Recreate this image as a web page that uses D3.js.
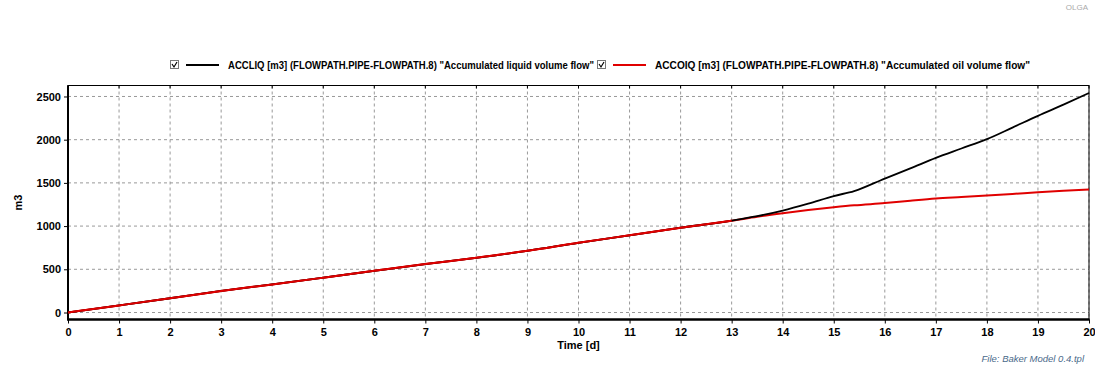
<meta charset="utf-8">
<script src="https://d3js.org/d3.v7.min.js"></script>
<style>
body { margin: 0; background: #fff; }
text { font-family: "Liberation Sans", Arial, sans-serif; }
</style>
<body>
<div id="chart"></div>
<script>

// days
var days = [0, 1, 2, 3, 4, 5, 6, 7, 8, 9, 10, 11, 12, 13, 13.5, 14, 14.5, 15, 15.4, 16, 16.5, 17, 17.5, 18, 18.5, 19, 19.5, 20]
// ACCLIQ [m3]
var liquid = [0, 82, 165, 250, 325, 403, 482, 560, 633, 714, 807, 893, 981, 1064, 1115, 1180, 1260, 1348, 1405, 1550, 1668, 1790, 1898, 2006, 2140, 2276, 2405, 2540]
// ACCOIQ [m3]
var oil = [0, 82, 165, 250, 325, 403, 482, 560, 633, 714, 807, 893, 981, 1062, 1108, 1148, 1185, 1217, 1240, 1266, 1293, 1318, 1336, 1354, 1372, 1391, 1408, 1424]

var xTicks = d3.range(0, 21)
var yTicks = [0, 500, 1000, 1500, 2000, 2500]

var seriesNames = ['ACCLIQ [m3] (FLOWPATH.PIPE-FLOWPATH.8) "Accumulated liquid volume flow"',
                   'ACCOIQ [m3] (FLOWPATH.PIPE-FLOWPATH.8) "Accumulated oil volume flow"']
var seriesColors = ["#000000", "#e00000"]

var width = 1095
var height = 372
var pLeft = 68, pRight = 1089, pTop = 85.5, pBottom = 319.5

var svg = d3.select("#chart")
  .append("svg")
    .attr("width", width)
    .attr("height", height)

var x = d3.scaleLinear().domain([0, 20]).range([pLeft, pRight])
var y = d3.scaleLinear().domain([-81, 2627]).range([pBottom, pTop])

// grid
svg.append("g")
  .selectAll("line")
  .data(xTicks)
  .enter().append("line")
    .attr("x1", d => x(d)).attr("x2", d => x(d))
    .attr("y1", pTop).attr("y2", pBottom)
    .attr("stroke", "#999").attr("stroke-dasharray", "3,3")
svg.append("g")
  .selectAll("line")
  .data(yTicks)
  .enter().append("line")
    .attr("x1", pLeft).attr("x2", pRight)
    .attr("y1", d => y(d)).attr("y2", d => y(d))
    .attr("stroke", "#999").attr("stroke-dasharray", "3,3")

// frame
svg.append("rect")
  .attr("x", pLeft).attr("y", pTop)
  .attr("width", pRight - pLeft).attr("height", pBottom - pTop)
  .attr("fill", "none").attr("stroke", "#000").attr("stroke-width", 1)

// axes
var xAxis = svg.append("g")
  .attr("transform", "translate(0," + pBottom + ")")
  .call(d3.axisBottom(x).tickValues(xTicks).tickSize(4).tickFormat(d3.format("d")))
var yAxis = svg.append("g")
  .attr("transform", "translate(" + pLeft + ",0)")
  .call(d3.axisLeft(y).tickValues(yTicks).tickSize(4).tickFormat(d3.format("d")))
xAxis.select(".domain").attr("stroke-width", 2.5).attr("d", "M" + (pLeft - 1) + ",0H" + (pRight + 0.5))
yAxis.select(".domain").attr("stroke-width", 2).attr("d", "M0," + pTop + "V" + pBottom)
svg.selectAll(".tick text")
  .attr("font-family", "Liberation Sans, Arial, sans-serif")
  .attr("font-size", 11).attr("font-weight", "bold").attr("fill", "#000")
xAxis.selectAll(".tick text").attr("dy", "0.9em")

// top ticks
svg.append("g")
  .selectAll("line")
  .data(xTicks)
  .enter().append("line")
    .attr("x1", d => x(d)).attr("x2", d => x(d))
    .attr("y1", pTop).attr("y2", pTop + 3)
    .attr("stroke", "#000")

// axis titles
svg.append("text")
  .attr("x", (pLeft + pRight) / 2).attr("y", 349)
  .attr("text-anchor", "middle")
  .attr("font-size", 11).attr("font-weight", "bold")
  .text("Time [d]")
svg.append("text")
  .attr("transform", "translate(22," + ((pTop + pBottom) / 2) + ") rotate(-90)")
  .attr("text-anchor", "middle")
  .attr("font-size", 11).attr("font-weight", "bold")
  .text("m3")

// lines
var line = d3.line().x((d, i) => x(days[i])).y(d => y(d)).curve(d3.curveMonotoneX)
svg.append("path").datum(oil)
  .attr("d", line).attr("fill", "none")
  .attr("stroke", seriesColors[1]).attr("stroke-width", 2)
svg.append("path").datum(liquid)
  .attr("d", line).attr("fill", "none")
  .attr("stroke", seriesColors[0]).attr("stroke-width", 1.8)
svg.append("path").datum(oil.slice(0, 14))
  .attr("d", line).attr("fill", "none")
  .attr("stroke", seriesColors[1]).attr("stroke-width", 2)

// legend
var legX = [170, 597]
var legW = [366, 375]
var leg = svg.append("g")
seriesNames.forEach(function(name, i) {
  var g = leg.append("g").attr("transform", "translate(" + legX[i] + ",66)")
  g.append("rect").attr("x", 0.5).attr("y", -5.5).attr("width", 8).attr("height", 8)
    .attr("fill", "#fff").attr("stroke", "#777")
  g.append("path").attr("d", "M2,-2 L4,1 L7,-4").attr("fill", "none").attr("stroke", "#000").attr("stroke-width", 1.2)
  g.append("line").attr("x1", 16).attr("x2", 49).attr("y1", -1).attr("y2", -1)
    .attr("stroke", seriesColors[i]).attr("stroke-width", 2)
  g.append("text").attr("x", 58).attr("y", 3)
    .attr("font-size", 10).attr("font-weight", "bold")
    .attr("textLength", legW[i]).attr("lengthAdjust", "spacingAndGlyphs")
    .text(name)
})

svg.append("text")
  .attr("x", 1084).attr("y", 362)
  .attr("text-anchor", "end")
  .attr("font-size", 9.5).attr("font-style", "italic").attr("fill", "#4a6a8a")
  .text("File: Baker Model 0.4.tpl")

svg.append("text")
  .attr("x", 1088).attr("y", 10)
  .attr("text-anchor", "end")
  .attr("font-size", 8).attr("fill", "#aaa")
  .text("OLGA")
</script>
</body>
